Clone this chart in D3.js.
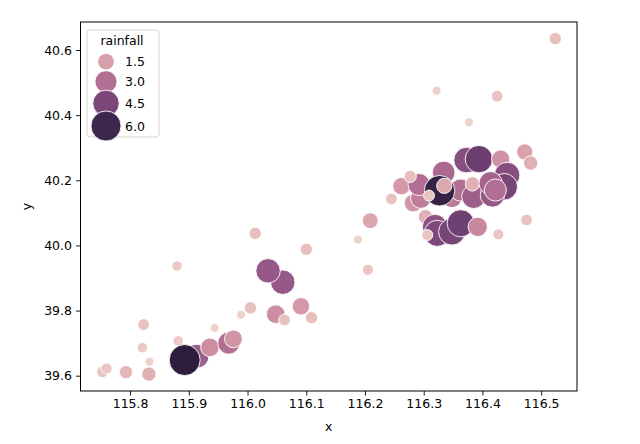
<!DOCTYPE html>
<html>
<head>
<meta charset="utf-8">
<script src="https://cdn.jsdelivr.net/npm/d3@7"></script>
<style>
body{margin:0;background:#fff}
text{font-family:'DejaVu Sans',sans-serif;fill:#000}
</style>
</head>
<body>
<div class="Chart"></div>
<script>
// station longitude, latitude and rainfall
const lon=[115.753,115.760,115.793,115.832,115.833,115.821,115.823,115.882,115.914,115.893,
	115.936,115.944,115.968,115.976,115.989,116.005,116.048,116.063,116.060,116.035,
	116.091,116.109,115.880,116.013,116.100,116.188,116.205,116.209,116.245,116.322,
	116.425,116.377,116.524,116.472,116.482,116.475,116.427,116.262,116.282,116.295,
	116.292,116.277,116.334,116.303,116.319,116.323,116.348,116.363,116.306,116.392,
	116.348,116.363,116.385,116.327,116.335,116.309,116.383,116.373,116.394,116.431,
	116.442,116.437,116.417,116.414,116.422]
const lat=[39.612,39.622,39.611,39.605,39.643,39.686,39.757,39.707,39.660,39.648,
	39.687,39.747,39.700,39.713,39.787,39.808,39.789,39.771,39.887,39.922,
	39.813,39.778,39.937,40.037,39.988,40.018,39.925,40.076,40.143,40.475,
	40.458,40.378,40.635,40.287,40.253,40.078,40.034,40.182,40.130,40.145,
	40.187,40.212,40.224,40.088,40.057,40.037,40.042,40.068,40.032,40.057,
	40.148,40.170,40.150,40.168,40.183,40.153,40.189,40.262,40.265,40.265,
	40.216,40.180,40.155,40.191,40.170]
const rainfall=[0.5,0.4,0.8,1.0,0.1,0.3,0.5,0.3,3.6,6.4,
	2.0,0.1,3.0,1.8,0.1,0.6,2.0,0.5,3.8,3.8,
	1.7,0.6,0.3,0.6,0.6,0.1,0.4,1.3,0.5,0.1,
	0.5,0.1,0.6,1.4,1.0,0.5,0.4,1.7,1.8,2.5,
	3.0,0.6,3.2,1.0,4.0,4.4,4.6,4.8,0.4,2.2,
	2.6,3.0,3.6,6.2,1.2,0.4,1.0,4.2,4.9,1.9,
	4.2,4.6,3.8,3.4,3.0]

const xTicks=[115.8,115.9,116.0,116.1,116.2,116.3,116.4,116.5]
const yTicks=[39.6,39.8,40.0,40.2,40.4,40.6]
const legendValues=[1.5,3.0,4.5,6.0]

const data=lon.map((d,i)=>({x:d,y:lat[i],r:rainfall[i]}))

const W=640,H=444
const margin=({top:22,right:63,bottom:53,left:80.5})
const width=W-margin.left-margin.right,
	  height=H-margin.top-margin.bottom

let svg=d3.select('.Chart').append('svg')
	  .attr('width',W)
	  .attr('height',H)
	  .append('g')
	  .attr('transform','translate('+margin.left+','+margin.top+')')

let xScale=d3.scaleLinear()
	  .domain([115.7156,116.561])
	  .range([0,width])
let yScale=d3.scaleLinear()
	  .domain([39.553,40.686])
	  .range([height,0])

// seaborn default cubehelix ramp, light -> dark
function cubehelix(t){
	const x=0.85-0.7*t
	const a=0.8*x*(1-x)/2
	const phi=2*Math.PI*(0.4*x)
	const f=(p0,p1)=>Math.max(0,Math.min(1,x+a*(p0*Math.cos(phi)+p1*Math.sin(phi))))
	return d3.rgb(f(-0.14861,1.78277)*255,f(-0.29227,-0.90649)*255,f(1.97294,0)*255)+''
}
const rMin=d3.min(rainfall),rMax=d3.max(rainfall)
let colorScale=d3.scaleLinear().domain([rMin,rMax]).range([0,1])
// area linear in value, like seaborn
let areaScale=d3.scaleLinear().domain([rMin,rMax]).range([81,961])
const radius=v=>Math.sqrt(areaScale(v))/2
const color=v=>cubehelix(colorScale(v))

svg.selectAll('.dot')
	.data(data)
	.enter()
	.append('circle')
	.attr('class','dot')
	.attr('cx',d=>xScale(d.x))
	.attr('cy',d=>yScale(d.y))
	.attr('r',d=>radius(d.r))
	.attr('fill',d=>color(d.r))
	.attr('stroke','#fff')
	.attr('stroke-width',0.9)

let xAxis=d3.axisBottom(xScale)
	.tickValues(xTicks)
	.tickFormat(d3.format('.1f'))
	.tickSizeOuter(0)
	.tickSize(4.5)
	.tickPadding(4)
let yAxis=d3.axisLeft(yScale)
	.tickValues(yTicks)
	.tickFormat(d3.format('.1f'))
	.tickSizeOuter(0)
	.tickSize(4.5)
	.tickPadding(4)

svg.append('g')
	.attr('class','x-axis')
	.attr('transform',`translate(0,${height})`)
	.call(xAxis)
svg.append('g')
	.attr('class','y-axis')
	.call(yAxis)
svg.selectAll('.domain').remove()
svg.selectAll('.tick text').style('font-size','12.5px').attr('fill','#000')
svg.selectAll('.tick line').attr('stroke','#000').attr('stroke-width',0.9)

svg.append('rect')
	.attr('width',width)
	.attr('height',height)
	.attr('fill','none')
	.attr('stroke','#000')
	.attr('stroke-width',1)

svg.append('text')
	.attr('x',width/2)
	.attr('y',height+40)
	.attr('text-anchor','middle')
	.style('font-size','12.5px')
	.text('x')
svg.append('text')
	.attr('transform',`translate(${-50},${height/2}) rotate(-90)`)
	.attr('text-anchor','middle')
	.style('font-size','12.5px')
	.text('y')

// legend
let legend=svg.append('g')
	.attr('transform','translate(6.5,8)')
legend.append('rect')
	.attr('width',72)
	.attr('height',107)
	.attr('rx',3)
	.attr('fill','#fff')
	.attr('fill-opacity',0.8)
	.attr('stroke','#d0d0d0')
	.attr('stroke-width',0.9)
legend.append('text')
	.attr('x',35)
	.attr('y',15)
	.attr('text-anchor','middle')
	.style('font-size','12.5px')
	.text('rainfall')
const rowY=[31.7,51.7,73.3,96]
legendValues.forEach((v,i)=>{
	legend.append('circle')
		.attr('cx',19)
		.attr('cy',rowY[i])
		.attr('r',radius(v))
		.attr('fill',color(v))
		.attr('stroke','#fff')
		.attr('stroke-width',0.9)
	legend.append('text')
		.attr('x',38)
		.attr('y',rowY[i]+4.5)
		.style('font-size','12.5px')
		.text(d3.format('.1f')(v))
})
</script>
</body>
</html>
